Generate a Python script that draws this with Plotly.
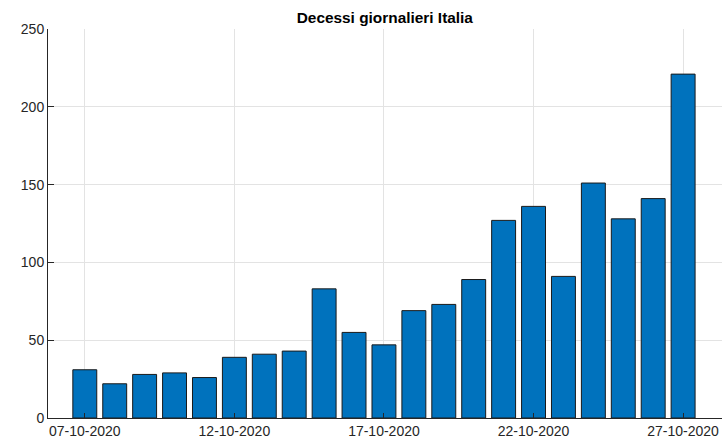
import plotly.graph_objects as go

dates = ["07-10-2020", "08-10-2020", "09-10-2020", "10-10-2020", "11-10-2020",
         "12-10-2020", "13-10-2020", "14-10-2020", "15-10-2020", "16-10-2020",
         "17-10-2020", "18-10-2020", "19-10-2020", "20-10-2020", "21-10-2020",
         "22-10-2020", "23-10-2020", "24-10-2020", "25-10-2020", "26-10-2020",
         "27-10-2020"]
deaths = [31, 22, 28, 29, 26, 39, 41, 43, 83, 55, 47, 69, 73, 89, 127,
          136, 91, 151, 128, 141, 221]
xticks = ["07-10-2020", "12-10-2020", "17-10-2020", "22-10-2020", "27-10-2020"]
yticks = [0, 50, 100, 150, 200, 250]

fig = go.Figure(go.Bar(
    x=dates, y=deaths,
    marker=dict(color="#0072BD", line=dict(color="#1a1a1a", width=1)),
    width=0.8,
))

font = "Liberation Sans, Arial, Helvetica, sans-serif"
fig.update_layout(
    width=722, height=440,
    margin=dict(l=48, r=0, t=29, b=22),
    paper_bgcolor="white", plot_bgcolor="white",
    showlegend=False,
    font=dict(family=font, size=14, color="#262626"),
    title=dict(text="<b>Decessi giornalieri Italia</b>", x=0.533, xanchor="center",
               y=0.961, yanchor="middle", font=dict(size=15.4, color="black")),
)
fig.update_xaxes(
    type="category", range=[-1.23, 21.3],
    tickmode="array", tickvals=xticks, ticktext=xticks,
    showgrid=True, gridcolor="#e3e3e3", gridwidth=1,
    showline=True, linecolor="#262626", linewidth=1,
    ticks="inside", ticklen=5, tickcolor="#262626",
    tickfont=dict(size=14, color="#262626"),
)
fig.update_yaxes(
    range=[0, 250], tickmode="array", tickvals=yticks,
    showgrid=True, gridcolor="#e3e3e3", gridwidth=1,
    showline=True, linecolor="#262626", linewidth=1,
    ticks="inside", ticklen=6, tickcolor="#262626",
    tickfont=dict(size=14, color="#262626"),
    zeroline=False,
)
fig.write_html(
    "out.html",
    config={"displayModeBar": False},
    post_script="document.body.style.margin='0';document.body.style.overflow='hidden';",
)
